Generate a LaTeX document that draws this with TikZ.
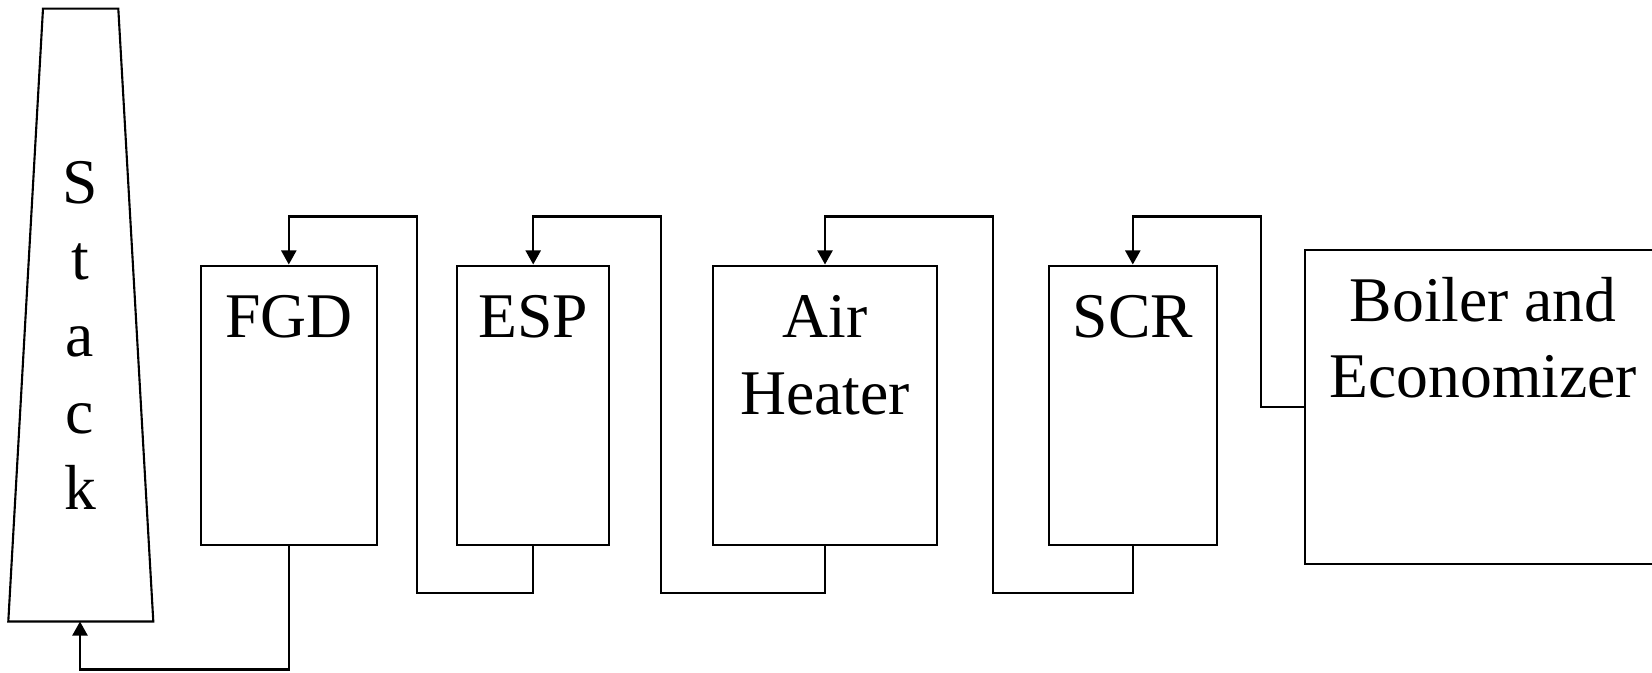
\documentclass[tikz,border=0pt]{standalone}
\usepackage{fontspec}
\setmainfont{Liberation Serif}
\usetikzlibrary{arrows.meta}

\begin{document}
\begin{tikzpicture}[x=0.01cm,y=-0.01cm,>={Triangle[length=1.4mm,width=1.5mm]},line width=0.6pt,
  lbl/.style={align=center,inner sep=0pt,text height=0.72cm,font=\fontsize{18.1}{21.8}\selectfont},
  unit/.style={lbl,draw,rectangle,anchor=north,minimum height=2.795cm,text depth=2.075cm}]
\useasboundingbox (0,0) rectangle (1652,673);
% stack
\draw (8.3,621.5) -- (43,8.6) -- (118.3,8.6) -- (153.3,621.5) -- cycle;
\coordinate (stackbase) at (80,621.5);
\node (stack) [lbl,anchor=north,text height=3.792cm] at (80,129.5) {S\\t\\a\\c\\k};
% units
\node (fgd) [unit,minimum width=1.763cm] at (288.8,264.5) {FGD};
\node (esp) [unit,minimum width=1.523cm] at (533.2,264.5) {ESP};
\node (ah) [unit,minimum width=2.24cm,text height=1.488cm,text depth=1.307cm] at (825,264.5) {Air\\Heater};
\node (scr) [unit,minimum width=1.683cm] at (1132.8,264.5) {SCR};
\node (boiler) [unit,anchor=north west,minimum width=3.56cm,minimum height=3.14cm,text height=1.478cm,text depth=1.662cm] at (1304,249) {Boiler and\\Economizer};
% gas path
\draw[->] (boiler.west) -- ++(-43,0) |- ([yshift=0.48cm]scr.north) -- (scr.north);
\draw[->] (scr.south) |- (992.7,592.7) |- ([yshift=0.48cm]ah.north) -- (ah.north);
\draw[->] (ah.south) |- (661,592.7) |- ([yshift=0.48cm]esp.north) -- (esp.north);
\draw[->] (esp.south) |- (416.7,592.7) |- ([yshift=0.48cm]fgd.north) -- (fgd.north);
\draw[->] (fgd.south) |- ([yshift=-0.48cm]stackbase) -- (stackbase);
\end{tikzpicture}
\end{document}
